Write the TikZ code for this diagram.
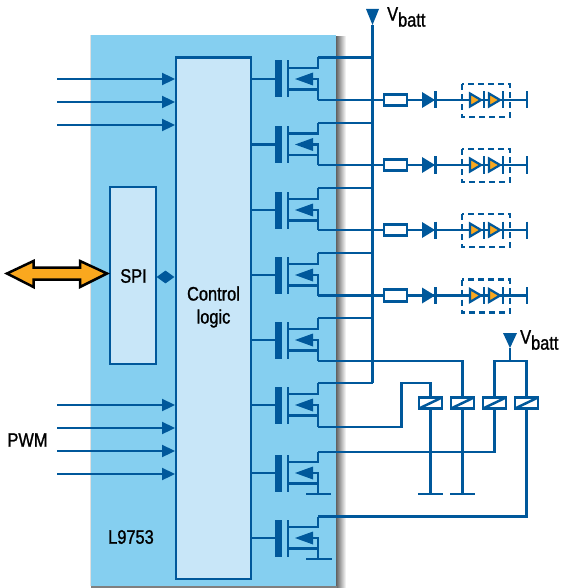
\documentclass[tikz,border=0pt]{standalone}
\usepackage{fontspec}
\setmainfont{Liberation Sans}[FakeStretch=0.84,FakeBold=1.2]
\usetikzlibrary{arrows.meta,calc,shapes.geometric}
\definecolor{wire}{HTML}{00589B}
\definecolor{chipblue}{HTML}{85CFF0}
\definecolor{paleblue}{HTML}{C8E6F8}
\definecolor{ledorange}{HTML}{FAA81E}
\tikzset{
  x=1pt,y=-1pt,
  wireline/.style={draw=wire,line width=2.3pt,line cap=butt,line join=miter},
  sig/.style={wireline,-{Triangle[length=13pt,width=12pt]}},
  block/.style={draw=wire,line width=2.3pt,fill=paleblue,inner sep=0pt,minimum width=#1},
  lbl/.style={text=black,font=\fontsize{19.5}{22}\selectfont,inner sep=0pt,align=center},
  res/.style={draw=wire,line width=2.8pt,fill=white,minimum width=23pt,minimum height=11.5pt,inner sep=0pt},
  relay/.style={draw=wire,line width=2.8pt,fill=white,minimum width=23pt,minimum height=11pt,inner sep=0pt,
    path picture={\draw[wire,line width=2.5pt] (path picture bounding box.south west) -- (path picture bounding box.north east);}},
}
% name, gate y, drain-end y, source-end y
\newcommand{\fetsym}[4]{%
  \coordinate (#1-g) at (275,#2);
  \coordinate (#1-d) at (318,#3);
  \coordinate (#1-s) at (318,#4);
  \fill[wire] (274.5,#2-18.5) rectangle (282,#2+18.5);
  \fill[wire] (286.7,#2-18.5) rectangle (289.3,#2+18.5);
  \draw[wireline] (288,#2-11) -- (318,#2-11) -- (#1-d);
  \draw[wireline] (288,#2+10.5) -- (318,#2+10.5) -- (#1-s);
  \draw[wireline] (310,#2) -- (318,#2) -- (318,#2+10.5);
  \fill[wire] (295,#2) -- (313,#2-6.5) -- (313,#2+6.5) -- cycle;
  \draw[wireline] (ctrl.east |- #1-g) -- (#1-g);
}
% LED chain on row y
\newcommand{\ledchain}[3]{% name, y, fet
  \node[res] (#1-r) at (395.5,#2) {};
  \coordinate (#1-a) at (422,#2);
  \coordinate (#1-end) at (527,#2);
  \draw[wireline] (#3-s) -- (#1-r.west);
  \draw[wireline] (#1-r.east) -- (#1-end);
  \fill[wire] (#1-a) ++(0,-8) -- ++(13,8) -- ++(-13,8) -- cycle;
  \draw[wire,line width=2.3pt] (435.5,#2-8.5) -- (435.5,#2+8.5);
  \draw[wire,line width=2.3pt] (#1-end) ++(0,-8.5) -- ++(0,17);
  \foreach \tx in {469,488}{
    \filldraw[fill=ledorange,draw=wire,line width=2.2pt,line join=miter] (\tx+1,#2-6.5) -- (\tx+12,#2) -- (\tx+1,#2+6.5) -- cycle;
  }
  \draw[wire,line width=2.3pt] (484,#2-8.5) -- (484,#2+8.5);
  \draw[wire,line width=2.3pt] (503,#2-8.5) -- (503,#2+8.5);
  \draw[wire,line width=2.5pt,dash pattern=on 6pt off 4pt] (462,#2-16) rectangle (510,#2+17);
}
\begin{document}
\begin{tikzpicture}
\useasboundingbox (0,0) rectangle (562,588);
\fill[white] (0,0) rectangle (562,588);
% chip + shadow
\shade[left color=black!62,right color=white] (336,37) rectangle (346,588);
\fill[black!50] (91,586) rectangle (337,588);
\fill[black!12] (90,35) rectangle (91,586);
\node[fill=chipblue,draw=none,minimum width=245pt,minimum height=551pt,inner sep=0pt,anchor=north west] (chip) at (91,35) {};
% blocks
\node[block=75pt,minimum height=521pt,anchor=north west] (ctrl) at (175,56.5) {};
\node[block=46pt,minimum height=177pt,anchor=north west] (spi) at (109,186) {};
\node[diamond,fill=wire,minimum width=18pt,minimum height=13pt,inner sep=0pt] (link) at (165.5,277) {};
\node[lbl] (spilbl) at (133.5,276) {SPI};
\node[lbl] (ctlbl) at (213.5,307) {Control\\[1pt]logic};
\node[lbl] (pwm) at (27.5,440) {PWM};
\node[lbl] (chipname) at (131,537) {L9753};
% input arrows
\foreach \i/\yy in {1/79,2/102,3/125,4/405,5/428,6/451,7/474}{
  \coordinate (in\i) at (57,\yy);
  \draw[sig] (in\i) -- (ctrl.west |- in\i);
}
% SPI wide arrow
\filldraw[fill=ledorange,draw=black,line width=2.5pt,line join=miter]
  (7,273.5) -- (33.5,261) -- (33.5,267.5) -- (80,267.5) -- (80,261) -- (107,273.5)
  -- (80,287) -- (80,279.5) -- (33.5,279.5) -- (33.5,287) -- cycle;
% FETs
\fetsym{f1}{79}{57.5}{100}
\fetsym{f2}{144.5}{123}{165}
\fetsym{f3}{210}{188}{230}
\fetsym{f4}{275}{253}{295.5}
\fetsym{f5}{340}{318}{361}
\fetsym{f6}{405}{383}{426.7}
\fetsym{f7}{473}{451.7}{494}
\fetsym{f8}{538}{516.5}{559}
% ground bars on the last two FETs
\draw[wireline] (306,494) -- (331,494);
\draw[wireline] (306,559) -- (332,559);
% Vbatt bus
\coordinate (vb1) at (372.5,25);
\fill[wire] (366,9) -- (379,9) -- (vb1) -- cycle;
\node[lbl,anchor=west] (vb1lbl) at (387,17) {V\raisebox{-6pt}{batt}};
\foreach \f in {f1,f2,f3,f4,f5,f6}{
  \draw[wireline] (\f-d) -- (vb1 |- \f-d);
}
\draw[wireline] (vb1) -- (vb1 |- f6-d);
% LED chains
\ledchain{c1}{100}{f1}
\ledchain{c2}{165}{f2}
\ledchain{c3}{230}{f3}
\ledchain{c4}{295.5}{f4}
% relays
\node[relay] (r1) at (430.5,403) {};
\node[relay] (r2) at (462.5,403) {};
\node[relay] (r3) at (494.5,403) {};
\node[relay] (r4) at (526.5,403) {};
\coordinate (g1) at (430.5,494);
\coordinate (g2) at (462.5,494);
\draw[wireline] (r1.south) -- (g1);
\draw[wireline] (r2.south) -- (g2);
\draw[wireline] (418,494) -- (443,494);
\draw[wireline] (450,494) -- (475,494);
\draw[wireline] (f5-s) -- (r2.center |- f5-s) -- (r2.north);
\draw[wireline] (f6-s) -- (401.5,426.7) -- (401.5,383) -- (r1.center |- 0,383) -- (r1.north);
\draw[wireline] (f7-d) -- (r3.center |- f7-d) -- (r3.south);
\draw[wireline] (f8-d) -- (r4.center |- f8-d) -- (r4.south);
\coordinate (vb2) at (510,348);
\fill[wire] (503,333) -- (517,333) -- (vb2) -- cycle;
\draw[wireline] (vb2) -- (510,361);
\draw[wireline] (r3.north) -- (r3.center |- 0,361) -- (r4.center |- 0,361) -- (r4.north);
\node[lbl,anchor=west] (vb2lbl) at (520,340) {V\raisebox{-6pt}{batt}};
\end{tikzpicture}
\end{document}
